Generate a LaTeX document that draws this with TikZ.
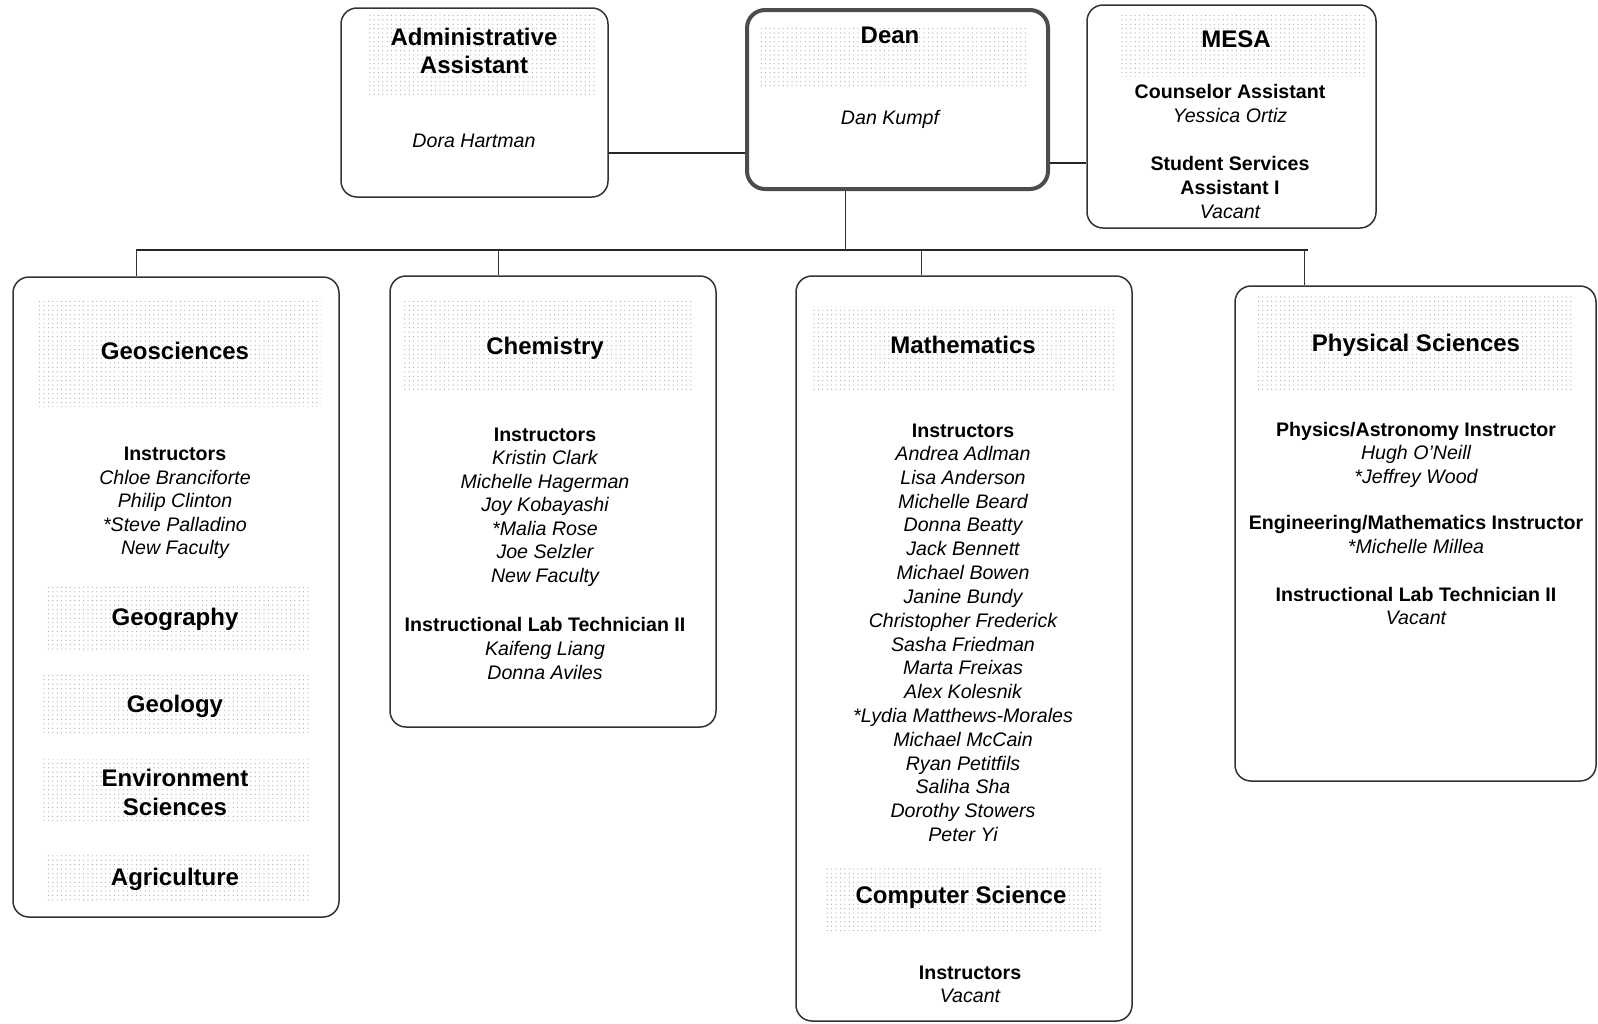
\documentclass[tikz,border=0pt]{standalone}
\usepackage{fontspec}
\setmainfont{Liberation Sans}
\usetikzlibrary{patterns.meta}
\begin{document}
\begin{tikzpicture}[x=0.5pt,y=-0.5pt,
  box/.style={draw=black!80, line width=0.75pt, rounded corners=8pt, fill=white, inner sep=0pt},
  deanbox/.style={draw=black!70, line width=2pt, rounded corners=9pt, fill=white, inner sep=0pt},
  shade/.style={pattern={Dots[distance=2.2pt, radius=0.3pt]}, pattern color=gray!70},
  hd/.style={font=\fontsize{12}{14}\selectfont\bfseries, anchor=base, yshift=-4.3pt, inner sep=0pt},
  sub/.style={font=\fontsize{9.8}{12}\selectfont\bfseries, anchor=base, yshift=-3.5pt, inner sep=0pt},
  it/.style={font=\fontsize{9.8}{12}\selectfont\itshape, anchor=base, yshift=-3.5pt, inner sep=0pt},
  conn/.style={draw=black!85, line width=1pt},
  thinline/.style={draw=black!80, line width=0.5pt}]
\useasboundingbox (0,0) rectangle (1598,1023);

% boxes
\node[box, minimum width=133.5pt, minimum height=94.5pt] (admin) at (474.5,102.5) {};
\node[deanbox, minimum width=150.5pt, minimum height=89.5pt] (dean) at (897.5,99.5) {};
\node[box, minimum width=144.5pt, minimum height=111.5pt] (mesa) at (1231.5,116.5) {};
\node[box, minimum width=163pt, minimum height=320pt] (geo) at (176,597) {};
\node[box, minimum width=163pt, minimum height=225.5pt] (chem) at (553,501.5) {};
\node[box, minimum width=168pt, minimum height=372.5pt] (math) at (964,648.5) {};
\node[box, minimum width=180.5pt, minimum height=247.5pt] (phys) at (1415.5,533.5) {};

% shaded heading areas
\fill[shade] (367,15) rectangle (596,97);
\fill[shade] (759,25) rectangle (1029,87);
\fill[shade] (1121,15) rectangle (1366,76);
\fill[shade] (36,300) rectangle (321,406);
\fill[shade] (46,586) rectangle (311,652);
\fill[shade] (43,673) rectangle (311,734);
\fill[shade] (43,759) rectangle (311,820);
\fill[shade] (46,854) rectangle (311,902);
\fill[shade] (403,300) rectangle (693,392);
\fill[shade] (810,306) rectangle (1116,392);
\fill[shade] (826,866) rectangle (1101,933);
\fill[shade] (1255,296) rectangle (1574,392);

% connectors
\coordinate (busL) at (136,250);
\coordinate (busR) at (1308,250);
\coordinate (dj) at (845,250);
\coordinate (cj) at (498,250);
\coordinate (mj) at (921,250);
\coordinate (pj) at (1304,250);
\draw[conn] (admin.east |- 0,153) -- (dean.west |- 0,153);
\draw[conn] (dean.east |- 0,163) -- (mesa.west |- 0,163);
\draw[conn] (busL) -- (busR);
\draw[thinline] (dean.south -| dj) -- (dj);
\draw[thinline] (busL) -- (geo.north -| busL);
\draw[thinline] (cj) -- (chem.north -| cj);
\draw[thinline] (mj) -- (math.north -| mj);
\draw[thinline] (pj) -- (phys.north -| pj);

% top texts
\node[hd] (t1) at (474,37) {Administrative};
\node[hd] (t2) at (474,65) {Assistant};
\node[it] (t3) at (474,140) {Dora Hartman};
\node[hd] (t4) at (890,35) {Dean};
\node[it] (t5) at (890,117) {Dan Kumpf};
\node[hd] (t6) at (1236,39) {MESA};
\node[sub] (t7) at (1230,91) {Counselor Assistant};
\node[it] (t8) at (1230,115) {Yessica Ortiz};
\node[sub] (t9) at (1230,163) {Student Services};
\node[sub] (t10) at (1230,187.5) {Assistant I};
\node[it] (t11) at (1230,211) {Vacant};

% geosciences
\node[hd] (g1) at (175,351) {Geosciences};
\node[sub] (g2) at (175,453.5) {Instructors};
\foreach \n [count=\i] in {Chloe Branciforte, Philip Clinton, *Steve Palladino, New Faculty}
  \node[it] (gn\i) at (175,{477+23.6*(\i-1)}) {\n};
\node[hd] (g3) at (175,616.5) {Geography};
\node[hd] (g4) at (175,704) {Geology};
\node[hd] (g5) at (175,778) {Environment};
\node[hd] (g6) at (175,807) {Sciences};
\node[hd] (g7) at (175,877) {Agriculture};

% chemistry
\node[hd] (c1) at (545,345.5) {Chemistry};
\node[sub] (c2) at (545,434) {Instructors};
\foreach \n [count=\i] in {Kristin Clark, Michelle Hagerman, Joy Kobayashi, *Malia Rose, Joe Selzler, New Faculty}
  \node[it] (cn\i) at (545,{457.5+23.6*(\i-1)}) {\n};
\node[sub] (c3) at (545,624) {Instructional Lab Technician II};
\node[it] (c4) at (545,648) {Kaifeng Liang};
\node[it] (c5) at (545,672) {Donna Aviles};

% mathematics
\node[hd] (m1) at (963,344.5) {Mathematics};
\node[sub] (m2) at (963,430) {Instructors};
\foreach \n [count=\i] in {Andrea Adlman, Lisa Anderson, Michelle Beard, Donna Beatty, Jack Bennett, Michael Bowen, Janine Bundy, Christopher Frederick, Sasha Friedman, Marta Freixas, Alex Kolesnik, *Lydia Matthews-Morales, Michael McCain, Ryan Petitfils, Saliha Sha, Dorothy Stowers, Peter Yi}
  \node[it] (mn\i) at (963,{453.5+23.82*(\i-1)}) {\n};
\node[hd] (m3) at (961,894.7) {Computer Science};
\node[sub] (m4) at (970,972) {Instructors};
\node[it] (m5) at (970,995.6) {Vacant};

% physical sciences
\node[hd] (p1) at (1416,342.4) {Physical Sciences};
\node[sub] (p2) at (1416,429) {Physics/Astronomy Instructor};
\node[it] (p3) at (1416,452.5) {Hugh O'Neill};
\node[it] (p4) at (1416,476) {*Jeffrey Wood};
\node[sub] (p5) at (1416,522) {Engineering/Mathematics Instructor};
\node[it] (p6) at (1416,546) {*Michelle Millea};
\node[sub] (p7) at (1416,594) {Instructional Lab Technician II};
\node[it] (p8) at (1416,617.5) {Vacant};
\end{tikzpicture}
\end{document}
